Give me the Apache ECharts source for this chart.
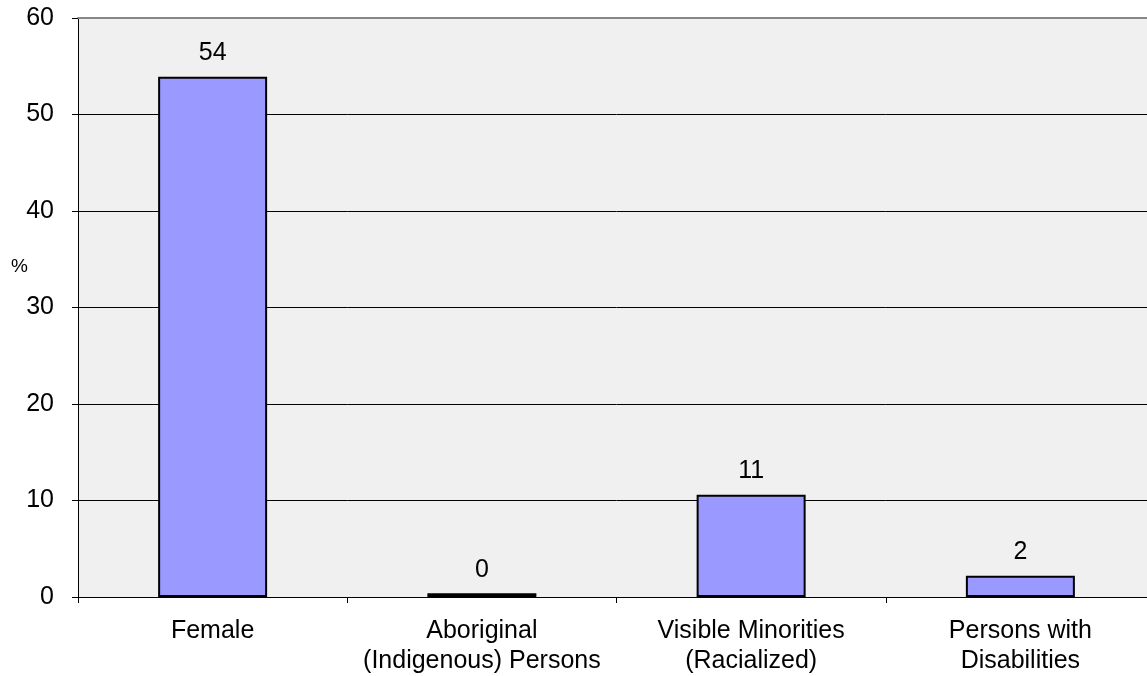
<!DOCTYPE html>
<html><head><meta charset="utf-8">
<script src="https://cdn.jsdelivr.net/npm/echarts@6/dist/echarts.min.js"></script>
<style>html,body{margin:0;padding:0;background:#fff;overflow:hidden}#c{width:1160px;height:676px}</style>
</head><body><div id="c"></div>
<script>
const categories = ['Female', 'Aboriginal\n(Indigenous) Persons', 'Visible Minorities\n(Racialized)', 'Persons with\nDisabilities'];
const values = [53.9, 0.4, 10.6, 2.2];
const yTicks = [0, 10, 20, 30, 40, 50, 60];
const yUnit = '%';

const chart = echarts.init(document.getElementById('c'));
const font = 'Liberation Sans, Arial, sans-serif';
chart.setOption({
  animation: false,
  grid: {left: 78, top: 18, width: 1077, height: 582, show: true, backgroundColor: '#f0f0f0', borderWidth: 0},
  graphic: [{type: 'text', left: 11, top: 257, style: {text: yUnit, fill: '#000', font: '19px ' + font}}],
  xAxis: [{
    type: 'category', data: categories,
    axisLine: {lineStyle: {color: '#000', width: 1}},
    axisTick: {show: true, length: 6, lineStyle: {color: '#000'}},
    axisLabel: {color: '#000', fontFamily: font, fontSize: 25, lineHeight: 30, margin: 19, interval: 0}
  }, {
    type: 'category', data: categories, position: 'top',
    axisLine: {lineStyle: {color: '#888', width: 2}},
    axisTick: {show: false}, axisLabel: {show: false}
  }],
  yAxis: {
    type: 'value', min: yTicks[0], max: yTicks[yTicks.length - 1], interval: 10,
    axisLine: {show: true, lineStyle: {color: '#000', width: 1}},
    axisTick: {show: true, length: 6, lineStyle: {color: '#000'}},
    axisLabel: {color: '#000', fontFamily: font, fontSize: 25, margin: 24},
    splitLine: {show: true, lineStyle: {color: '#000', width: 1}}
  },
  series: [{
    type: 'bar', data: values, barWidth: 109,
    itemStyle: {color: '#9999ff', borderColor: '#000', borderWidth: 2},
    label: {show: true, position: 'top', distance: 11, color: '#000', fontFamily: font, fontSize: 25,
      formatter: p => String(Math.round(p.value))}
  }]
});
</script></body></html>
